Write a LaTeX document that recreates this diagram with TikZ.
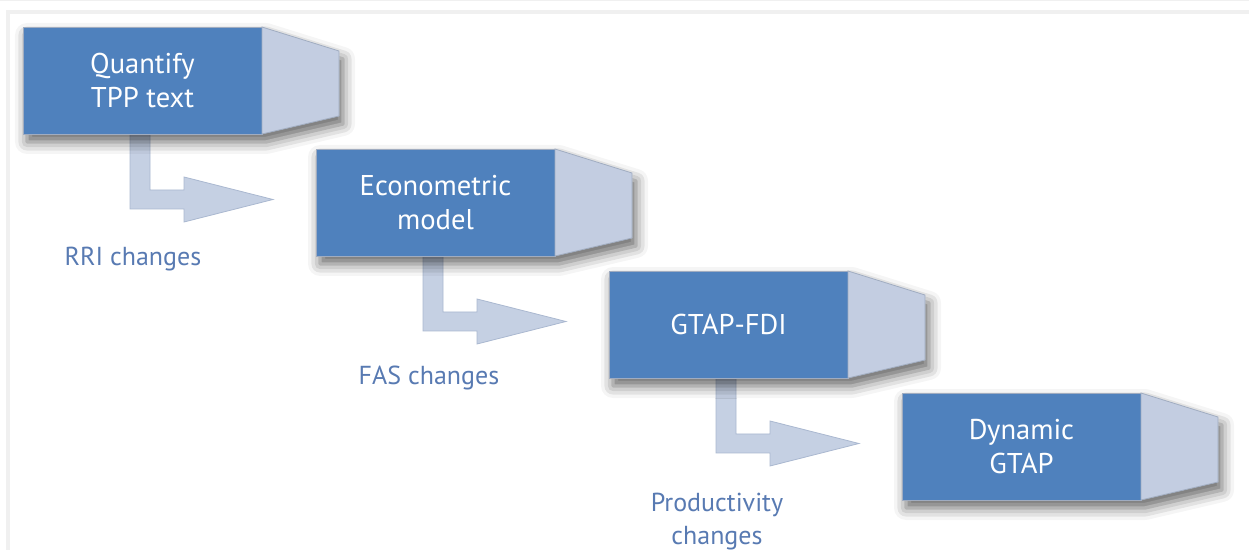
\documentclass[tikz,border=0pt]{standalone}
\usepackage{fontspec}
\setmainfont{PT Sans}
\usetikzlibrary{positioning, shadows.blur, backgrounds, calc}

\begin{document}
\begin{tikzpicture}[
    x=0.5pt, y=-0.5pt,
    node distance=7.5pt and 27pt,
    font=\fontsize{14.3}{17}\selectfont,
    % --- Styles ---
    stagebox/.style={
        rectangle, minimum width=119.5pt, minimum height=53.5pt,
        inner sep=2pt, outer sep=0pt, align=center, text=white,
        fill=stage_fill, draw=stage_edge, line width=0.4pt
    },
    stagetab/.style={fill=tab_fill, draw=stage_edge, line width=0.4pt},
    castshadow/.style={
        fill=white,
        blur shadow={shadow xshift=2pt, shadow yshift=-4pt,
                     shadow blur radius=6pt, shadow opacity=60}
    },
    bentarrow/.style={fill=arrow_fill, draw=arrow_edge, line width=0.4pt},
    note/.style={font=\fontsize{13}{16.5}\selectfont, text=note_text,
                 align=center, inner sep=0pt, anchor=north}
]

    % ── Colour Palette ──────────────────────────────────────────────────
    \definecolor{stage_fill}{RGB}{79, 129, 189}
    \definecolor{stage_edge}{RGB}{160, 172, 192}
    \definecolor{tab_fill}{RGB}{195, 205, 225}
    \definecolor{arrow_fill}{RGB}{197, 208, 227}
    \definecolor{arrow_edge}{RGB}{170, 184, 208}
    \definecolor{note_text}{RGB}{88, 122, 178}
    \definecolor{frame_grey}{RGB}{240, 240, 240}

    \useasboundingbox (0,0) rectangle (1249,550);

    % Frame
    \draw[frame_grey, line width=0.5pt] (0,0.5) -- (1249,0.5);
    \draw[frame_grey, line width=2pt] (8,550) |- (1249,12);

    % ── NODES ───────────────────────────────────────────────────────────

    \node (quantify) [stagebox, anchor=north west] at (23,27) {Quantify\\TPP text};
    \node (econ) [stagebox, below right=of quantify.south east] {Econometric\\model};
    \node (gtapfdi) [stagebox, below right=of econ.south east] {GTAP-FDI};
    \node (dyngtap) [stagebox, below right=of gtapfdi.south east] {Dynamic\\GTAP};

    % Side tabs
    \path[stagetab] (quantify.north east) -- ++(77,24) -- ++(0,65) -- (quantify.south east) -- cycle;
    \path[stagetab] (econ.north east) -- ++(77,24) -- ++(0,65) -- (econ.south east) -- cycle;
    \path[stagetab] (gtapfdi.north east) -- ++(77,24) -- ++(0,65) -- (gtapfdi.south east) -- cycle;
    \path[stagetab] (dyngtap.north east) -- ++(77,24) -- ++(0,65) -- (dyngtap.south east) -- cycle;

    % Labels
    \node (rri) [note] at ($(quantify.south west)+(110,113)$) {RRI changes};
    \node (fas) [note] at ($(econ.south west)+(113,110)$) {FAS changes};
    \node (prod) [note] at ($(gtapfdi.south west)+(108,115)$) {Productivity\\changes};

    % ── BENT ARROWS ─────────────────────────────────────────────────────
    \begin{scope}[on background layer, shift={(quantify.south west)}]
        \path[bentarrow] (107,0) -- (127,0) -- (127,56) -- (161,56) -- (161,43)
            -- (250,65.5) -- (161,88) -- (161,75) -- (107,75) -- cycle;
    \end{scope}
    \begin{scope}[on background layer, shift={(econ.south west)}]
        \path[bentarrow] (107,0) -- (127,0) -- (127,56) -- (161,56) -- (161,43)
            -- (250,65.5) -- (161,88) -- (161,75) -- (107,75) -- cycle;
    \end{scope}
    \begin{scope}[on background layer, shift={(gtapfdi.south west)}]
        \path[bentarrow] (107,0) -- (127,0) -- (127,56) -- (161,56) -- (161,43)
            -- (250,65.5) -- (161,88) -- (161,75) -- (107,75) -- cycle;
    \end{scope}

    % ── SHADOWS ─────────────────────────────────────────────────────────
    \begin{scope}[on background layer]
        \path[castshadow] (quantify.north west) -- (quantify.north east) -- ++(77,24)
            -- ++(0,65) -- (quantify.south east) -- (quantify.south west) -- cycle;
        \path[castshadow] (econ.north west) -- (econ.north east) -- ++(77,24)
            -- ++(0,65) -- (econ.south east) -- (econ.south west) -- cycle;
        \path[castshadow] (gtapfdi.north west) -- (gtapfdi.north east) -- ++(77,24)
            -- ++(0,65) -- (gtapfdi.south east) -- (gtapfdi.south west) -- cycle;
        \path[castshadow] (dyngtap.north west) -- (dyngtap.north east) -- ++(77,24)
            -- ++(0,65) -- (dyngtap.south east) -- (dyngtap.south west) -- cycle;
    \end{scope}

\end{tikzpicture}
\end{document}
